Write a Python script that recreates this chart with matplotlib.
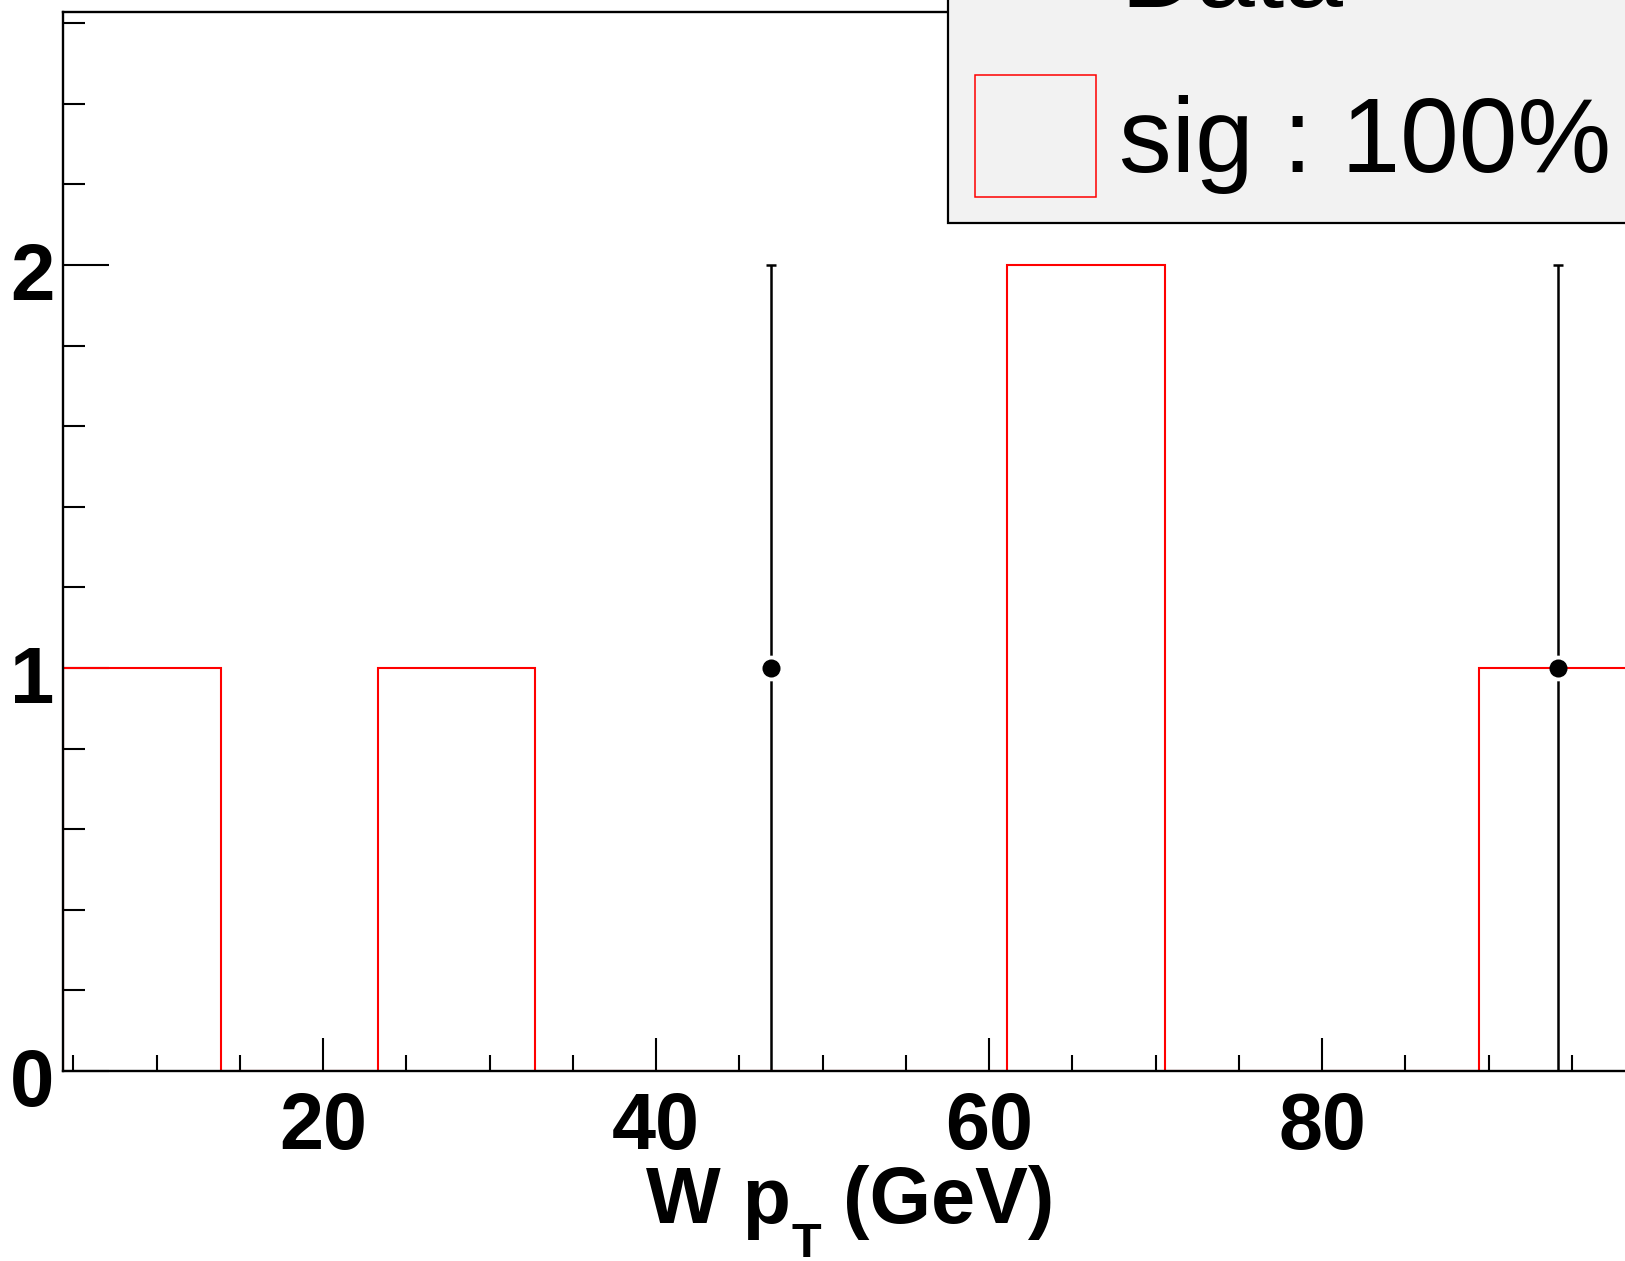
import numpy as np
import matplotlib
matplotlib.use("Agg")
import matplotlib.pyplot as plt
from matplotlib.patches import Rectangle
from matplotlib.ticker import FixedLocator, MultipleLocator
from matplotlib.transforms import ScaledTranslation

# ---------------- data ----------------
bin_edges = [4.40, 13.85, 23.30, 32.75, 42.20, 51.65, 61.10, 70.55, 80.00, 89.45, 98.90]
sig_counts = [1, 0, 1, 0, 0, 0, 2, 0, 0, 1]
data_counts = [0, 0, 0, 0, 1, 0, 0, 0, 0, 1]
x_major = [20, 40, 60, 80]
x_tick_labels = ["20", "40", "60", "80"]
y_major = [0, 1, 2]
y_tick_labels = ["0", "1", "2"]
x_label_main = "W p"
x_label_sub = "T"
x_label_unit = "(GeV)"
legend_labels = ["Data", "sig : 100%"]

# ---------------- figure ----------------
W_PX, H_PX, DPI = 1625, 1261, 100
plt.rcParams['font.family'] = ['Liberation Sans', 'DejaVu Sans']
fig = plt.figure(figsize=(W_PX / DPI, H_PX / DPI), dpi=DPI)
fig.patch.set_facecolor('white')

ax_left, ax_right, ax_bottom, ax_top = 63.3, 1636.7, 1071.0, 12.3
ax = fig.add_axes([ax_left / W_PX, (H_PX - ax_bottom) / H_PX,
                   (ax_right - ax_left) / W_PX, (ax_bottom - ax_top) / H_PX])
ax.set_facecolor('white')

edges = np.array(bin_edges)
sig = np.array(sig_counts, dtype=float)
dat = np.array(data_counts, dtype=float)
centers = 0.5 * (edges[:-1] + edges[1:])

# signal histogram outline
ax.stairs(sig, edges, baseline=0, color='#ff0000', linewidth=1.5, zorder=4)

# data points with Poisson errors
mask = dat > 0
dx = centers[mask]
dy = dat[mask]
derr = np.sqrt(dy)
ax.errorbar(dx, dy, yerr=derr, fmt='none', ecolor='black', elinewidth=1.8,
            capsize=3.6, capthick=1.8, zorder=3)
ax.plot(dx, dy, 'o', color='white', markersize=18.5, markeredgewidth=0, zorder=3.5)
ax.plot(dx, dy, 'o', color='black', markersize=13, markeredgewidth=0, zorder=5)

ax.set_xlim(edges[0], edges[-1])
ax.set_ylim(0, 2.627)

for s in ax.spines.values():
    s.set_linewidth(1.7)
    s.set_zorder(6)

ax.xaxis.set_major_locator(FixedLocator(x_major))
ax.xaxis.set_minor_locator(MultipleLocator(5))
ax.set_xticklabels(x_tick_labels)
ax.yaxis.set_major_locator(FixedLocator(y_major))
ax.yaxis.set_minor_locator(MultipleLocator(0.2))
ax.set_yticklabels(y_tick_labels)

ax.tick_params(axis='x', which='major', direction='in', length=23.8, width=1.5,
               pad=14.5, labelsize=57, top=False)
ax.tick_params(axis='x', which='minor', direction='in', length=11.5, width=1.5, top=False)
ax.tick_params(axis='y', which='major', direction='in', length=32.9, width=1.5,
               pad=6.5, labelsize=57.5, right=False)
ax.tick_params(axis='y', which='minor', direction='in', length=15.8, width=1.5, right=False)
for lab in ax.get_xticklabels() + ax.get_yticklabels():
    lab.set_fontweight('bold')
for lab in ax.get_yticklabels():
    lab.set_transform(lab.get_transform() + ScaledTranslation(0, -6 / DPI, fig.dpi_scale_trans))

# ---------------- x axis title (W p_T (GeV)) ----------------
fig.canvas.draw()
r = fig.canvas.get_renderer()
main_kw = dict(fontsize=57, fontweight='bold', va='baseline', ha='left')
t1 = fig.text(0, 0, x_label_main, **main_kw)
t2 = fig.text(0, 0, x_label_sub, fontsize=35, fontweight='bold', va='top', ha='left')
t3 = fig.text(0, 0, x_label_unit, **main_kw)
w1 = t1.get_window_extent(r).width
w2 = t2.get_window_extent(r).width
w3 = t3.get_window_extent(r).width
gap = 22.0
total = w1 + w2 + gap + w3
x_center = 0.5 * (ax_left + ax_right)
start = x_center - total / 2
baseline_px = 1223.0
t1.set_position((start / W_PX, (H_PX - baseline_px) / H_PX))
t2.set_position(((start + w1) / W_PX, (H_PX - baseline_px + 1) / H_PX))
t3.set_position(((start + w1 + w2 + gap) / W_PX, (H_PX - baseline_px) / H_PX))

# ---------------- legend (partly outside canvas) ----------------
leg_left, leg_bottom = 948.0, 222.8
fig.add_artist(Rectangle((leg_left / W_PX, (H_PX - leg_bottom) / H_PX), 1.0, 1.0,
                         transform=fig.transFigure, facecolor='#f2f2f2',
                         edgecolor='black', linewidth=1.6, zorder=10))
fig.add_artist(Rectangle((974.5 / W_PX, (H_PX - 197.0) / H_PX), 121.0 / W_PX, 122.5 / H_PX,
                         transform=fig.transFigure, facecolor='none',
                         edgecolor='#ff0000', linewidth=1.1, zorder=11))
fig.text(1120 / W_PX, (H_PX - 7.3) / H_PX, legend_labels[0], fontsize=76,
         va='baseline', ha='left', zorder=12)
fig.text(1119 / W_PX, (H_PX - 171.7) / H_PX, legend_labels[1], fontsize=76,
         va='baseline', ha='left', zorder=12)

fig.savefig('out.png', dpi=DPI)
